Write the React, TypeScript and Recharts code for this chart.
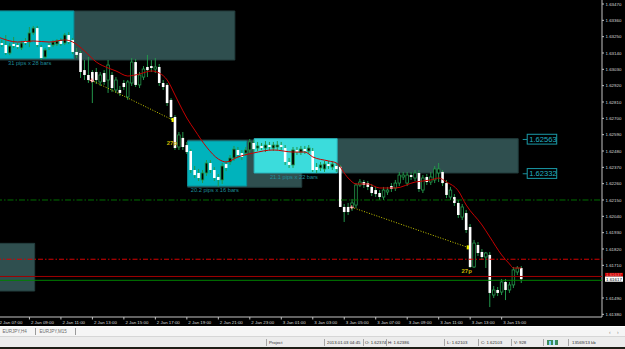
import React from 'react';
import {
  ComposedChart,
  Bar,
  Line,
  XAxis,
  YAxis,
  ReferenceArea,
  ReferenceLine,
  ReferenceDot,
} from 'recharts';

// ---------- data ----------
const SLOT_COUNT = 154; // bar slots across the chart (chart shift leaves the right part empty)

// M15 candles from 2 Jan 07:00: [open, high, low, close]
const ohlc: [number, number, number, number][] = [
  [1.63214, 1.63241, 1.63174, 1.63187],
  [1.63207, 1.63228, 1.6318, 1.63194],
  [1.63194, 1.63261, 1.63127, 1.6314],
  [1.6314, 1.63207, 1.63127, 1.63187],
  [1.63201, 1.63248, 1.63174, 1.63187],
  [1.63194, 1.63207, 1.63167, 1.6318],
  [1.63174, 1.63221, 1.6316, 1.63207],
  [1.63221, 1.63241, 1.63194, 1.63207],
  [1.63214, 1.63315, 1.6318, 1.63275],
  [1.63275, 1.63322, 1.63261, 1.63308],
  [1.63308, 1.63322, 1.6318, 1.63194],
  [1.6318, 1.63194, 1.63093, 1.63106],
  [1.63113, 1.63174, 1.631, 1.6316],
  [1.63194, 1.63207, 1.6316, 1.6318],
  [1.63194, 1.63228, 1.6318, 1.63214],
  [1.63201, 1.63234, 1.63187, 1.63221],
  [1.63221, 1.63241, 1.63187, 1.63201],
  [1.63207, 1.63275, 1.63194, 1.63261],
  [1.63261, 1.63281, 1.63201, 1.63214],
  [1.63228, 1.63241, 1.63133, 1.63147],
  [1.63147, 1.63174, 1.63106, 1.63127],
  [1.6314, 1.63153, 1.62972, 1.63012],
  [1.63025, 1.63093, 1.62958, 1.62992],
  [1.62992, 1.63113, 1.62938, 1.62958],
  [1.63012, 1.63025, 1.62803, 1.62945],
  [1.63012, 1.63039, 1.62931, 1.62958],
  [1.62945, 1.63012, 1.62918, 1.62992],
  [1.63005, 1.63025, 1.62925, 1.62945],
  [1.62958, 1.63093, 1.62871, 1.63059],
  [1.62992, 1.63012, 1.62877, 1.62904],
  [1.62891, 1.62978, 1.62871, 1.62958],
  [1.62891, 1.62918, 1.6285, 1.62871],
  [1.62938, 1.62958, 1.62891, 1.62911],
  [1.62844, 1.62958, 1.62824, 1.62945],
  [1.62938, 1.63106, 1.62918, 1.63079],
  [1.63079, 1.631, 1.62911, 1.62925],
  [1.62925, 1.63012, 1.62904, 1.62992],
  [1.62978, 1.63052, 1.62958, 1.63032],
  [1.63046, 1.63127, 1.62978, 1.63025],
  [1.63052, 1.63093, 1.63012, 1.63039],
  [1.63032, 1.63106, 1.63005, 1.63046],
  [1.63046, 1.63066, 1.62918, 1.62938],
  [1.62938, 1.62958, 1.62891, 1.62911],
  [1.62925, 1.62938, 1.62783, 1.62803],
  [1.62824, 1.62837, 1.62689, 1.62709],
  [1.62709, 1.62722, 1.62487, 1.625],
  [1.62507, 1.62608, 1.62487, 1.62588],
  [1.62568, 1.62608, 1.62487, 1.62507],
  [1.6252, 1.62541, 1.6246, 1.62473],
  [1.6248, 1.62493, 1.62332, 1.62352],
  [1.62352, 1.62379, 1.62298, 1.62318],
  [1.62332, 1.62359, 1.62278, 1.62298],
  [1.62285, 1.62352, 1.62264, 1.62332],
  [1.62332, 1.62419, 1.62312, 1.62399],
  [1.62399, 1.62419, 1.62332, 1.62352],
  [1.62352, 1.62372, 1.62278, 1.62298],
  [1.62305, 1.62325, 1.62238, 1.62285],
  [1.62285, 1.62399, 1.62258, 1.62379],
  [1.62392, 1.62413, 1.62345, 1.62366],
  [1.62406, 1.62453, 1.62386, 1.62433],
  [1.62433, 1.62514, 1.62413, 1.62493],
  [1.62487, 1.62507, 1.62433, 1.62453],
  [1.62466, 1.62487, 1.62419, 1.6244],
  [1.62466, 1.62507, 1.62446, 1.62487],
  [1.62487, 1.62561, 1.62466, 1.62541],
  [1.62534, 1.62554, 1.62473, 1.62493],
  [1.625, 1.62541, 1.6248, 1.62514],
  [1.62514, 1.62534, 1.62487, 1.625],
  [1.625, 1.62547, 1.62473, 1.6252],
  [1.6252, 1.62541, 1.62487, 1.62507],
  [1.625, 1.62541, 1.6248, 1.6252],
  [1.62507, 1.62547, 1.62487, 1.6252],
  [1.6252, 1.62541, 1.62487, 1.62507],
  [1.625, 1.6252, 1.62386, 1.62406],
  [1.62406, 1.62433, 1.62366, 1.62386],
  [1.62386, 1.62507, 1.62366, 1.62487],
  [1.62487, 1.62507, 1.62453, 1.62473],
  [1.62473, 1.62514, 1.62453, 1.62493],
  [1.62493, 1.62514, 1.6246, 1.6248],
  [1.6248, 1.6252, 1.6246, 1.625],
  [1.6248, 1.625, 1.62339, 1.62352],
  [1.62372, 1.62399, 1.62332, 1.62352],
  [1.62366, 1.62406, 1.62345, 1.62386],
  [1.62359, 1.62413, 1.62339, 1.62392],
  [1.62392, 1.62413, 1.62359, 1.62379],
  [1.62372, 1.62413, 1.62352, 1.62392],
  [1.62379, 1.62399, 1.62339, 1.62359],
  [1.62374, 1.62386, 1.62103, 1.62103],
  [1.62103, 1.62123, 1.62002, 1.62069],
  [1.62103, 1.6213, 1.62049, 1.62069],
  [1.62096, 1.62157, 1.62076, 1.6213],
  [1.62116, 1.62264, 1.62096, 1.62251],
  [1.62251, 1.62291, 1.62238, 1.62271],
  [1.62271, 1.62285, 1.62231, 1.62251],
  [1.62264, 1.62278, 1.62217, 1.62238],
  [1.62238, 1.62258, 1.62177, 1.62197],
  [1.62217, 1.62238, 1.6217, 1.6219],
  [1.62197, 1.62217, 1.6215, 1.6217],
  [1.6217, 1.62238, 1.6215, 1.62217],
  [1.62204, 1.62238, 1.62184, 1.62217],
  [1.62244, 1.62264, 1.62204, 1.62224],
  [1.62231, 1.62285, 1.62211, 1.62264],
  [1.62264, 1.62339, 1.62244, 1.62318],
  [1.62305, 1.62339, 1.62285, 1.62318],
  [1.62264, 1.62339, 1.62244, 1.62318],
  [1.62318, 1.62339, 1.62285, 1.62305],
  [1.62298, 1.62352, 1.62278, 1.62332],
  [1.62332, 1.62352, 1.62204, 1.62224],
  [1.62217, 1.62318, 1.62197, 1.62298],
  [1.62305, 1.62325, 1.62251, 1.62271],
  [1.62271, 1.62339, 1.62251, 1.62305],
  [1.62285, 1.62379, 1.62264, 1.62359],
  [1.62332, 1.62399, 1.62271, 1.62359],
  [1.62339, 1.62352, 1.62244, 1.62264],
  [1.62264, 1.62285, 1.62163, 1.62184],
  [1.6217, 1.62238, 1.6215, 1.62217],
  [1.6217, 1.6219, 1.6211, 1.6213],
  [1.6213, 1.6215, 1.62029, 1.62049],
  [1.62035, 1.62123, 1.62015, 1.62103],
  [1.62062, 1.62083, 1.61928, 1.61948],
  [1.61968, 1.61988, 1.61692, 1.61699],
  [1.61699, 1.61881, 1.61692, 1.6186],
  [1.61847, 1.61867, 1.61773, 1.61793],
  [1.618, 1.6182, 1.61746, 1.61766],
  [1.61766, 1.618, 1.61692, 1.61793],
  [1.6178, 1.618, 1.61429, 1.61524],
  [1.6151, 1.61571, 1.6149, 1.61544],
  [1.61544, 1.61564, 1.61503, 1.61524],
  [1.6153, 1.61618, 1.6151, 1.61598],
  [1.61598, 1.61618, 1.61476, 1.61544],
  [1.61544, 1.61598, 1.61524, 1.61578],
  [1.61578, 1.61699, 1.61557, 1.61679],
  [1.61665, 1.61705, 1.61645, 1.61692],
  [1.61692, 1.61705, 1.61591, 1.61617],
];

// moving average (bar index -> price)
const maIndex = [0, 5, 9, 13, 17, 19, 22, 25, 28, 30, 33, 36, 39, 41, 43, 45, 46, 48, 50, 53, 56, 58, 61, 65, 70, 75, 78, 80, 84, 86, 89, 91, 94, 97, 101, 106, 110, 112, 114, 117, 119, 123, 125, 128, 130, 131, 133];
const maValue = [1.63248, 1.63214, 1.63221, 1.63214, 1.63228, 1.63214, 1.63154, 1.63079, 1.63039, 1.63019, 1.62985, 1.62999, 1.63019, 1.63005, 1.62958, 1.62857, 1.62803, 1.62702, 1.62621, 1.62507, 1.62426, 1.62406, 1.6244, 1.62467, 1.62487, 1.62473, 1.62473, 1.6244, 1.62413, 1.62399, 1.62298, 1.62258, 1.62258, 1.62231, 1.62231, 1.62271, 1.62285, 1.62298, 1.62271, 1.62211, 1.62116, 1.61982, 1.61901, 1.6178, 1.61719, 1.61692, 1.61692];

const timeTickIndex = [0, 8, 16, 24, 32, 40, 48, 56, 64, 72, 80, 88, 96, 104, 112, 120, 128];
const timeLabels = ['2 Jan 07:00', '2 Jan 09:00', '2 Jan 11:00', '2 Jan 13:00', '2 Jan 15:00', '2 Jan 17:00', '2 Jan 19:00', '2 Jan 21:00', '2 Jan 23:00', '3 Jan 01:00', '3 Jan 03:00', '3 Jan 05:00', '3 Jan 07:00', '3 Jan 09:00', '3 Jan 11:00', '3 Jan 13:00', '3 Jan 15:00'];

const priceTicks = [1.6347, 1.6336, 1.6325, 1.6314, 1.6303, 1.6292, 1.6281, 1.627, 1.6259, 1.6248, 1.6237, 1.6226, 1.6215, 1.6204, 1.6193, 1.6182, 1.6171, 1.6149, 1.6138];
const priceDomain: [number, number] = [1.61362, 1.63497];

// chart objects, in bar-slot units and prices
const rectangles = [
  { x1: 0, x2: 60.7, top: 1.63423, bottom: 1.63093, kind: 'grey' },
  { x1: 0, x2: 19.8, top: 1.63423, bottom: 1.63102, kind: 'cyan' },
  { x1: 48.7, x2: 77.7, top: 1.62554, bottom: 1.62236, kind: 'grey' },
  { x1: 48.7, x2: 63.7, top: 1.62547, bottom: 1.62244, kind: 'cyan' },
  { x1: 86.7, x2: 132.7, top: 1.62563, bottom: 1.62332, kind: 'grey' },
  { x1: 65.6, x2: 86.7, top: 1.62563, bottom: 1.62332, kind: 'light' },
  { x1: 0, x2: 9.83, top: 1.61858, bottom: 1.61537, kind: 'grey' },
];
const boxNotes = [
  { x: 3.05, p: 1.63073, text: '31 pips x 28 bars' },
  { x: 49.5, p: 1.62217, text: '20.2 pips x 16 bars' },
  { x: 69.6, p: 1.62303, text: '21.1 pips x 22 bars' },
];
const boxPriceTags = [1.62563, 1.62332];
const boxTagSlot = 133.85;

const trendLines = [
  { x1: 24.3, p1: 1.62956, x2: 44.9, p2: 1.62689, label: '27p', lx: 44.7, lp: 1.62534 },
  { x1: 90.4, p1: 1.62101, x2: 119.9, p2: 1.61831, label: '27p', lx: 119.6, lp: 1.61672 },
];

const levels = [
  { p: 1.6215, kind: 'greenDash' },
  { p: 1.61751, kind: 'redDash' },
  { p: 1.61635, kind: 'redSolid' },
  { p: 1.61609, kind: 'greenSolid' },
];
const askPrice = 1.61637;
const bidPrice = 1.61617;

// ---------- layout & styles ----------
const CHART_W = 629;
const CHART_H = 326;
const Y_AXIS_W = 23;
const PLOT_W = CHART_W - Y_AXIS_W;
const FONT = '"Liberation Sans", Arial, sans-serif';
const WICK = '#23974b';
const AXIS_TEXT = '#dadada';
const rectStyle: Record<string, { fill: string; stroke: string }> = {
  grey: { fill: '#2f4f4f', stroke: '#233d3d' },
  cyan: { fill: '#00b3bc', stroke: '#0b8d96' },
  light: { fill: '#3bdcdc', stroke: '#2bb8c0' },
};
const levelStyle: Record<string, { stroke: string; dash?: string }> = {
  greenDash: { stroke: '#006e00', dash: '6 2 1.5 2' },
  redDash: { stroke: '#d80000', dash: '5 2 1.5 2' },
  redSolid: { stroke: '#a00000' },
  greenSolid: { stroke: '#008000' },
};

const rows = Array.from({ length: SLOT_COUNT }, (_, i) => {
  const c = ohlc[i];
  const m = maIndex.indexOf(i);
  return {
    slot: i,
    o: c ? c[0] : null,
    h: c ? c[1] : null,
    l: c ? c[2] : null,
    c: c ? c[3] : null,
    ma: m >= 0 ? maValue[m] : null,
  };
});

const candleRange = (d: any) => (d.h == null ? null : [d.l, d.h]);

const Candle = (props: any) => {
  const { x, y, width, height, payload } = props;
  if (!payload || payload.h == null) return null;
  const top = Math.min(y, y + height);
  const hgt = Math.abs(height);
  const range = payload.h - payload.l;
  const k = range > 0 ? hgt / range : 0;
  const yO = top + (payload.h - payload.o) * k;
  const yC = top + (payload.h - payload.c) * k;
  const cx = x + width / 2;
  const bull = payload.c > payload.o;
  const bt = Math.min(yO, yC);
  const bh = Math.max(Math.abs(yO - yC), 1);
  return (
    <g>
      <line x1={cx} x2={cx} y1={top} y2={top + hgt} stroke={WICK} strokeWidth={1} />
      <rect
        x={cx - 1.3}
        y={bt}
        width={2.6}
        height={bh}
        fill={bull ? '#000' : '#ffffff'}
        stroke={bull ? WICK : 'none'}
        strokeWidth={0.8}
      />
    </g>
  );
};

const PriceTick = (props: any) => {
  const { x, y, payload } = props;
  return (
    <g>
      <line x1={x} x2={x + 2} y1={y} y2={y} stroke="#c4c4c4" />
      <text x={x + 3.5} y={y + 1.6} fontSize={4.4} fill={AXIS_TEXT} fontFamily={FONT}>
        {Number(payload.value).toFixed(5)}
      </text>
    </g>
  );
};

const TimeTick = (props: any) => {
  const { x, y, payload } = props;
  const idx = timeTickIndex.indexOf(Number(payload.value));
  return (
    <g>
      <line x1={x} x2={x} y1={y} y2={y + 2.5} stroke="#c4c4c4" />
      <text x={x + 1.5} y={y + 7.3} fontSize={4.4} fill={AXIS_TEXT} fontFamily={FONT}>
        {idx >= 0 ? timeLabels[idx] : ''}
      </text>
    </g>
  );
};

const statusItems = [
  { x: 269, text: 'Project' },
  { x: 327, text: '2013.01.03 04:45' },
  { x: 365, text: 'O: 1.62374' },
  { x: 388, text: 'H: 1.62386' },
  { x: 447, text: 'L: 1.62103' },
  { x: 481, text: 'C: 1.62103' },
  { x: 514, text: 'V: 928' },
  { x: 572, text: '13569/13 kb' },
];
const statusSeparators = [266, 324, 363, 386, 444, 478, 511, 543, 568];

export default function App() {
  return (
    <div
      style={{
        width: 625,
        height: 349,
        position: 'relative',
        overflow: 'hidden',
        background: '#000',
        fontFamily: FONT,
      }}
    >
      <style>{'html,body{margin:0;padding:0;background:#000;}'}</style>
      <div style={{ position: 'absolute', left: -4, top: 0 }}>
        <ComposedChart
          width={CHART_W}
          height={CHART_H}
          data={rows}
          margin={{ top: 0, right: 0, bottom: 0, left: 0 }}
        >
          <XAxis
            dataKey="slot"
            type="category"
            interval={0}
            ticks={timeTickIndex}
            tick={<TimeTick />}
            tickLine={false}
            tickSize={0}
            tickMargin={0}
            height={9}
            axisLine={{ stroke: '#c4c4c4' }}
          />
          <XAxis
            xAxisId="pos"
            type="number"
            dataKey="slot"
            domain={[0, SLOT_COUNT]}
            allowDataOverflow
            hide
          />
          <YAxis
            orientation="right"
            type="number"
            domain={priceDomain}
            allowDataOverflow
            ticks={priceTicks}
            interval={0}
            tick={<PriceTick />}
            tickLine={false}
            tickSize={0}
            tickMargin={0}
            width={Y_AXIS_W}
            axisLine={{ stroke: '#c4c4c4' }}
          />

          {rectangles.map((r, i) => (
            <ReferenceArea
              key={'r' + i}
              xAxisId="pos"
              x1={r.x1}
              x2={r.x2}
              y1={r.bottom}
              y2={r.top}
              fill={rectStyle[r.kind].fill}
              fillOpacity={1}
              stroke={rectStyle[r.kind].stroke}
              strokeWidth={1}
              ifOverflow="hidden"
            />
          ))}

          <Bar dataKey={candleRange} shape={<Candle />} isAnimationActive={false} />

          <Line
            dataKey="ma"
            type="monotone"
            stroke="#c80000"
            strokeWidth={1}
            dot={false}
            activeDot={false}
            connectNulls
            isAnimationActive={false}
          />

          {/* horizontal price levels, drawn from the left edge of the plot across its width */}
          {levels.map((lv, i) => (
            <ReferenceDot
              key={'lv' + i}
              xAxisId="pos"
              x={0}
              y={lv.p}
              ifOverflow="visible"
              shape={(p: any) => (
                <line
                  x1={p.cx}
                  x2={p.cx + PLOT_W}
                  y1={p.cy}
                  y2={p.cy}
                  stroke={levelStyle[lv.kind].stroke}
                  strokeDasharray={levelStyle[lv.kind].dash}
                  strokeWidth={1}
                />
              )}
            />
          ))}

          {trendLines.map((t, i) => (
            <ReferenceLine
              key={'t' + i}
              xAxisId="pos"
              segment={[
                { x: t.x1, y: t.p1 },
                { x: t.x2, y: t.p2 },
              ]}
              stroke="#cccc00"
              strokeDasharray="1 1.6"
              strokeWidth={1}
              ifOverflow="visible"
            />
          ))}
          {trendLines.map((t, i) => (
            <ReferenceDot
              key={'ts' + i}
              xAxisId="pos"
              x={t.x1}
              y={t.p1}
              ifOverflow="visible"
              shape={(p: any) => (
                <g>
                  <rect x={p.cx - 2} y={p.cy - 0.5} width={4} height={1.2} fill="#ff8a8a" />
                  <rect x={p.cx - 0.6} y={p.cy - 2} width={1.2} height={4} fill="#ff8a8a" />
                  <rect x={p.cx - 0.5} y={p.cy - 0.4} width={1} height={1} fill="#ffffff" />
                </g>
              )}
            />
          ))}
          {trendLines.map((t, i) => (
            <ReferenceDot
              key={'te' + i}
              xAxisId="pos"
              x={t.x2}
              y={t.p2}
              ifOverflow="visible"
              shape={(p: any) => (
                <rect x={p.cx - 1.1} y={p.cy - 2} width={2.2} height={4} fill="#f2f200" />
              )}
            />
          ))}
          {trendLines.map((t, i) => (
            <ReferenceDot
              key={'tl' + i}
              xAxisId="pos"
              x={t.lx}
              y={t.lp}
              ifOverflow="visible"
              shape={(p: any) => (
                <text
                  x={p.cx}
                  y={p.cy + 2}
                  fontSize={6}
                  fontWeight="bold"
                  textAnchor="middle"
                  fill="#c8b400"
                  fontFamily={FONT}
                >
                  {t.label}
                </text>
              )}
            />
          ))}

          {boxNotes.map((n, i) => (
            <ReferenceDot
              key={'n' + i}
              xAxisId="pos"
              x={n.x}
              y={n.p}
              ifOverflow="visible"
              shape={(p: any) => (
                <text x={p.cx} y={p.cy + 2} fontSize={5.7} fill="#1f8e9c" fontFamily={FONT}>
                  {n.text}
                </text>
              )}
            />
          ))}

          {boxPriceTags.map((bp, i) => (
            <ReferenceDot
              key={'bp' + i}
              xAxisId="pos"
              x={boxTagSlot}
              y={bp}
              ifOverflow="visible"
              shape={(p: any) => (
                <g>
                  <line x1={p.cx} x2={p.cx + 4.5} y1={p.cy + 0.8} y2={p.cy + 0.8} stroke="#1a8f9c" />
                  <rect
                    x={p.cx + 4.5}
                    y={p.cy - 4.4}
                    width={29.5}
                    height={9.8}
                    fill="#000"
                    stroke="#1a9aa8"
                    strokeWidth={1}
                  />
                  <text x={p.cx + 6.5} y={p.cy + 3.1} fontSize={7.6} fill="#22b2c2" fontFamily={FONT}>
                    {bp.toFixed(5)}
                  </text>
                </g>
              )}
            />
          ))}

          <ReferenceDot
            xAxisId="pos"
            x={SLOT_COUNT}
            y={askPrice}
            ifOverflow="visible"
            shape={(p: any) => (
              <g>
                <rect x={p.cx + 3} y={p.cy - 3.3} width={18} height={3.8} fill="#c80000" />
                <text x={p.cx + 4} y={p.cy + 0.2} fontSize={4.4} fill="#ff9090" fontFamily={FONT}>
                  {askPrice.toFixed(5)}
                </text>
              </g>
            )}
          />
          <ReferenceDot
            xAxisId="pos"
            x={SLOT_COUNT}
            y={bidPrice}
            ifOverflow="visible"
            shape={(p: any) => (
              <g>
                <rect x={p.cx + 3} y={p.cy - 2.6} width={18} height={5.2} fill="#ffffff" />
                <text x={p.cx + 4} y={p.cy + 1.6} fontSize={4.4} fill="#000" fontFamily={FONT}>
                  {bidPrice.toFixed(5)}
                </text>
              </g>
            )}
          />
        </ComposedChart>
      </div>

      {/* tab bar */}
      <div
        style={{
          position: 'absolute',
          left: 0,
          top: 326,
          width: 625,
          height: 10,
          background: '#f5f5f5',
          borderTop: '1px solid #ffffff',
          boxSizing: 'border-box',
          fontSize: 4.5,
          color: '#6a6a6a',
        }}
      >
        <span style={{ position: 'absolute', left: 2.5, top: 2.4 }}>EURJPY,H4</span>
        <span style={{ position: 'absolute', left: 35, top: 1, width: 1, height: 7, background: '#9a9a9a' }} />
        <span style={{ position: 'absolute', left: 39.5, top: 2.4 }}>EURJPY,M15</span>
        <span style={{ position: 'absolute', left: 75, top: 1, width: 1, height: 7, background: '#9a9a9a' }} />
        <span style={{ position: 'absolute', left: 609, top: 2, fontSize: 5, color: '#8a8a8a' }}>‹</span>
        <span style={{ position: 'absolute', left: 617, top: 2, fontSize: 5, color: '#8a8a8a' }}>›</span>
      </div>

      {/* status bar */}
      <div
        style={{
          position: 'absolute',
          left: 0,
          top: 336,
          width: 625,
          height: 11,
          background: '#ececec',
          borderTop: '1px solid #d6d6d6',
          boxSizing: 'border-box',
          fontSize: 4.3,
          color: '#2a2a2a',
        }}
      >
        {statusSeparators.map((sx, i) => (
          <span
            key={'s' + i}
            style={{ position: 'absolute', left: sx, top: 1.5, width: 1, height: 7, background: '#a6a6a6' }}
          />
        ))}
        {statusItems.map((it, i) => (
          <span key={'st' + i} style={{ position: 'absolute', left: it.x, top: 3, whiteSpace: 'nowrap' }}>
            {it.text}
          </span>
        ))}
        <span style={{ position: 'absolute', left: 547, top: 2.5, width: 11, height: 5, background: '#3c8c5a' }} />
        <span style={{ position: 'absolute', left: 549, top: 3.5, width: 2, height: 4, background: '#7fd0ff' }} />
        <span style={{ position: 'absolute', left: 553, top: 2.5, width: 2, height: 5, background: '#b0e8ff' }} />
      </div>
      <div
        style={{ position: 'absolute', left: 0, top: 347, width: 625, height: 2, background: '#1e1e16' }}
      />
    </div>
  );
}
